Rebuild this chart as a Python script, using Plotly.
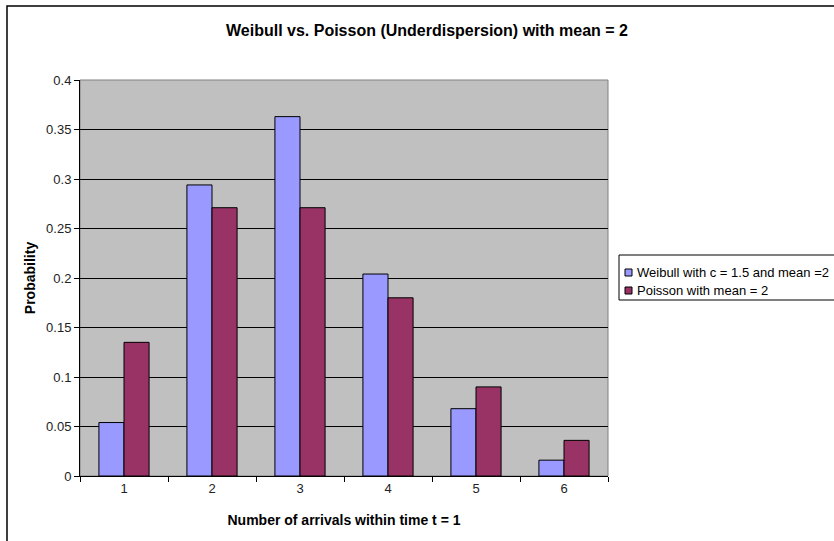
import plotly.graph_objects as go

categories = ["1", "2", "3", "4", "5", "6"]
weibull = [0.054, 0.294, 0.363, 0.204, 0.068, 0.016]
poisson = [0.135, 0.271, 0.271, 0.180, 0.090, 0.036]
y_ticks = [0, 0.05, 0.1, 0.15, 0.2, 0.25, 0.3, 0.35, 0.4]
series_names = ["Weibull with c = 1.5 and mean =2", "Poisson with mean = 2"]
series_colors = ["#9999FF", "#993366"]

font = "Arial, Liberation Sans, sans-serif"

# layout geometry (pixels)
L, R, T, B = 80, 226, 80, 65
W, H = 834, 541
PW, PH = W - L - R, H - T - B


def px(x):
    return (x - L) / PW


def py(y):
    return (H - B - y) / PH


fig = go.Figure()
for name, vals, col in zip(series_names, [weibull, poisson], series_colors):
    fig.add_trace(go.Bar(x=categories, y=vals, name=name, showlegend=False,
                         marker=dict(color=col, line=dict(color="#000000", width=1))))

fig.update_layout(
    width=W, height=H,
    margin=dict(l=L, r=R, t=T, b=B, autoexpand=False),
    paper_bgcolor="white",
    plot_bgcolor="#C0C0C0",
    barmode="group",
    bargap=0.43,
    bargroupgap=0,
    font=dict(family=font, size=13, color="#000000"),
    title=dict(text="<b>Weibull vs. Poisson (Underdispersion) with mean = 2</b>",
               x=0.512, xanchor="center", y=0.943, yanchor="middle",
               font=dict(size=16, family=font)),
    xaxis=dict(
        type="category",
        showline=True, linecolor="#000000", linewidth=1,
        ticks="outside", tickson="boundaries", ticklen=5, tickcolor="#000000",
        showgrid=False,
        tickfont=dict(size=13, color="#222222"),
        title=dict(text="<b>Number of arrivals within time t = 1</b>",
                   font=dict(size=14), standoff=20),
    ),
    yaxis=dict(
        range=[0, 0.4],
        tickvals=y_ticks,
        showline=True, linecolor="#000000", linewidth=1,
        ticks="outside", ticklen=5, tickcolor="#000000",
        showgrid=True, gridcolor="#000000", gridwidth=1,
        zeroline=False,
        tickfont=dict(size=13, color="#222222"),
        title=dict(text="<b>Probability</b>", font=dict(size=14), standoff=7),
    ),
    showlegend=False,
)

# plot-area border (gray top/right) and outer chart border
fig.add_shape(type="rect", xref="paper", yref="paper", x0=0, y0=0, x1=1, y1=1,
              line=dict(color="#808080", width=1), layer="below")
fig.add_shape(type="rect", xref="paper", yref="paper",
              x0=px(7), y0=-1, x1=2, y1=py(6),
              line=dict(color="#000000", width=1.5))

# legend box (extends past the right edge, as in the original)
fig.add_shape(type="rect", xref="paper", yref="paper",
              x0=px(619), y0=py(300), x1=px(900), y1=py(255),
              line=dict(color="#000000", width=1), fillcolor="white")
for i, (name, col) in enumerate(zip(series_names, series_colors)):
    yc = 272.5 + 18 * i
    fig.add_shape(type="rect", xref="paper", yref="paper",
                  x0=px(625), x1=px(632), y0=py(yc + 3.5), y1=py(yc - 3.5),
                  line=dict(color="#000000", width=1), fillcolor=col)
    fig.add_annotation(text=name, xref="paper", yref="paper",
                       x=px(635), y=py(yc), xanchor="left", yanchor="middle",
                       showarrow=False, font=dict(size=13, family=font, color="#000000"))

fig.write_html("out.html", config={"displayModeBar": False},
               post_script="document.body.style.margin='0px';document.body.style.overflow='hidden';")
